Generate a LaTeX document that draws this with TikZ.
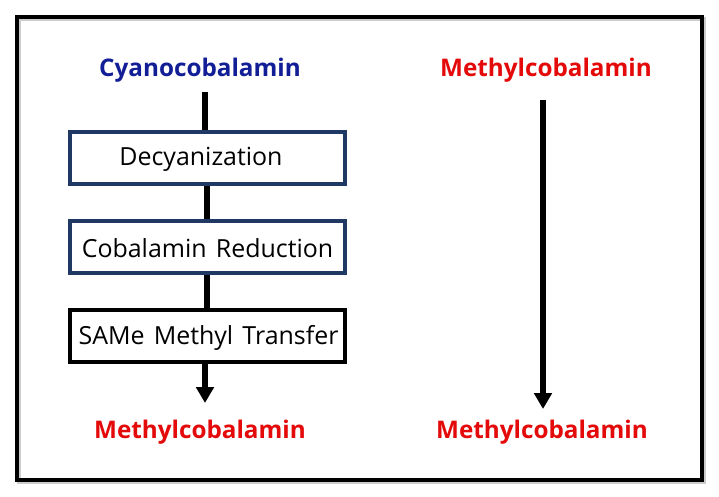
\documentclass[tikz,border=0pt]{standalone}
\usepackage{fontspec}
\setmainfont{Open Sans}
\usetikzlibrary{arrows.meta}
\definecolor{cyanblue}{RGB}{18,30,150}
\definecolor{methred}{RGB}{228,10,10}
\definecolor{navy}{RGB}{31,56,100}
\newcommand\stepfont{\fontsize{18.7}{20}\selectfont\spaceskip=0.37em\relax}
\tikzset{
  stepbox/.style={draw=navy, line width=2.6pt, minimum width=275*0.75pt, minimum height=52*0.75pt, inner sep=0pt},
  steptext/.style={font=\stepfont, inner sep=0pt},
  title/.style={font=\fontsize{18.2}{22}\selectfont\bfseries, inner sep=0pt},
  conn/.style={line width=4.5pt},
  arr/.style={line width=4.5pt, -{Triangle[length=12pt,width=13pt]}}
}
\begin{document}
\begin{tikzpicture}[x=0.75pt,y=-0.75pt]
\useasboundingbox (0,0) rectangle (719,497);
\fill[white] (0,0) rectangle (719,497);
\draw[gray!40, line width=3pt] (19,19) rectangle (704,482);
\draw[black, line width=3pt] (17,17) rectangle (702,480);
\node[title, text=cyanblue] (cyano) at (200,70) {Cyanocobalamin};
\node[stepbox] (dec) at (207.5,158) {};
\node[steptext] (dectxt) at (201,159.5) {Decyanization};
\node[stepbox] (red) at (207.5,247) {};
\node[steptext] (redtxt) at (207.5,248.5) {Cobalamin Reduction};
\node[stepbox, draw=black] (same) at (207.5,336) {};
\node[steptext] (sametxt) at (208.5,337.5) {SAMe Methyl Transfer};
\node[title, text=methred] (mcl) at (200,432) {Methylcobalamin};
\node[title, text=methred] (mtop) at (546,70) {Methylcobalamin};
\node[title, text=methred] (mbot) at (542,432) {Methylcobalamin};
\coordinate (c1) at (205,92);
\coordinate (a1) at (205,403);
\coordinate (r1) at (543,100);
\coordinate (r2) at (543,409);
\draw[conn] (c1) -- (c1 |- dec.north);
\draw[conn] (dec.south -| 207,0) -- (red.north -| 207,0);
\draw[conn] (red.south -| 207,0) -- (same.north -| 207,0);
\draw[arr] (same.south -| a1) -- (a1);
\draw[arr] (r1) -- (r2);
\end{tikzpicture}
\end{document}
